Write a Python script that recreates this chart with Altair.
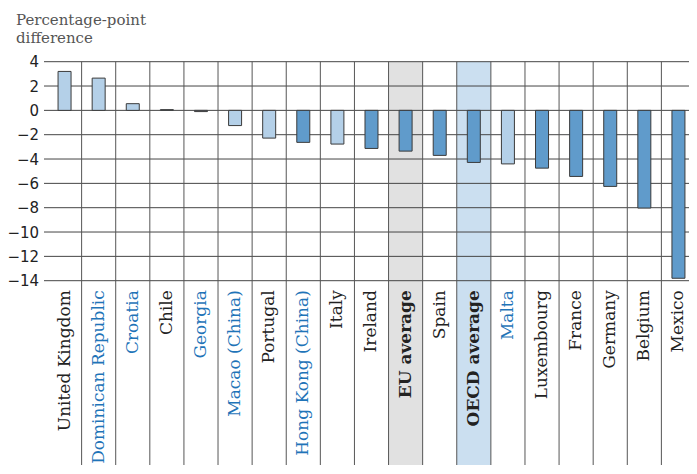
import altair as alt
import pandas as pd

countries = ["United Kingdom", "Dominican Republic", "Croatia", "Chile", "Georgia",
             "Macao (China)", "Portugal", "Hong Kong (China)", "Italy", "Ireland",
             "EU average", "Spain", "OECD average", "Malta", "Luxembourg", "France",
             "Germany", "Belgium", "Mexico"]
values = [3.2, 2.65, 0.55, 0.06, -0.1, -1.25, -2.28, -2.63, -2.77, -3.13,
          -3.35, -3.7, -4.28, -4.4, -4.75, -5.43, -6.25, -8.03, -13.8]
significant = ["no", "no", "no", "no", "no", "no", "no", "yes", "no", "yes",
               "yes", "yes", "yes", "no", "yes", "yes", "yes", "yes", "yes"]
partners = ["Dominican Republic", "Croatia", "Georgia", "Macao (China)",
            "Hong Kong (China)", "Malta"]
averages = ["EU average", "OECD average"]
shade_colors = ["#e1e1e1", "#cbdff0"]
y_ticks = [4, 2, 0, -2, -4, -6, -8, -10, -12, -14]

W, H = 648, 219

df = pd.DataFrame({"country": countries, "value": values, "sig": significant})
shade_df = pd.DataFrame({"country": averages, "fill": shade_colors})
bound_df = pd.DataFrame({"country": countries[1:]})
grid_df = pd.DataFrame({"tick": y_ticks})

xscale = alt.Scale(domain=countries, paddingInner=0, paddingOuter=0)
yscale = alt.Scale(domain=[-14, 4], nice=False, zero=False)

partner_js = "[" + ",".join("'" + p + "'" for p in partners) + "]"
avg_js = "[" + ",".join("'" + a + "'" for a in averages) + "]"

xaxis = alt.Axis(labelAngle=-90, labelAlign="right", labelBaseline="middle",
                 labelFont="DejaVu Serif", labelFontSize=17,
                 labelColor={"expr": "indexof(" + partner_js + ", datum.value) >= 0 ? '#1f74b8' : '#222222'"},
                 labelFontWeight={"expr": "indexof(" + avg_js + ", datum.value) >= 0 ? 'bold' : 'normal'"},
                 labelPadding=9, labelLimit=400, ticks=False, domain=False,
                 grid=False, title=None)
yaxis = alt.Axis(values=y_ticks, labelFont="DejaVu Sans", labelFontSize=15,
                 labelColor="#222222", ticks=False, domain=False, grid=False,
                 labelPadding=9, title=None)

shade = alt.Chart(shade_df).mark_rect().encode(
    x=alt.X("country:N", scale=xscale, axis=xaxis, title=None),
    y=alt.value(0),
    y2=alt.value(H + 220),
    fill=alt.Fill("fill:N", scale=None),
)

hgrid = alt.Chart(grid_df).mark_rule(color="#444", strokeWidth=1).encode(
    y=alt.Y("tick:Q", scale=yscale, axis=yaxis, title=None),
    x=alt.value(-3.5),
    x2=alt.value(W + 10),
)

vgrid = alt.Chart(bound_df).mark_rule(color="#555", strokeWidth=1).encode(
    x=alt.X("country:N", scale=xscale, bandPosition=0, axis=xaxis, title=None),
    y=alt.value(0),
    y2=alt.value(H + 220),
)

bars = alt.Chart(df).mark_bar(size=13, stroke="#3a3a3a", strokeWidth=1).encode(
    x=alt.X("country:N", scale=xscale, axis=xaxis, title=None),
    y=alt.Y("value:Q", scale=yscale, axis=yaxis, title=None),
    fill=alt.Fill("sig:N", scale=alt.Scale(domain=["no", "yes"],
                                            range=["#b4d0e8", "#609bcb"]), legend=None),
)

chart = alt.layer(shade, hgrid, vgrid, bars).properties(
    width=W, height=H,
    autosize=alt.AutoSizeParams(type="none"),
    padding={"left": 39.5, "top": 53.7, "right": -6.5, "bottom": 184},
    title=alt.TitleParams(text=["Percentage-point", "difference"], anchor="start",
                          frame="group", dx=-31.5, font="DejaVu Serif", fontSize=15,
                          fontWeight="normal", color="#555555", lineHeight=17.5,
                          offset=9),
).configure_view(stroke=None)

chart.save("out.html", embed_options={"renderer": "svg", "actions": False})
